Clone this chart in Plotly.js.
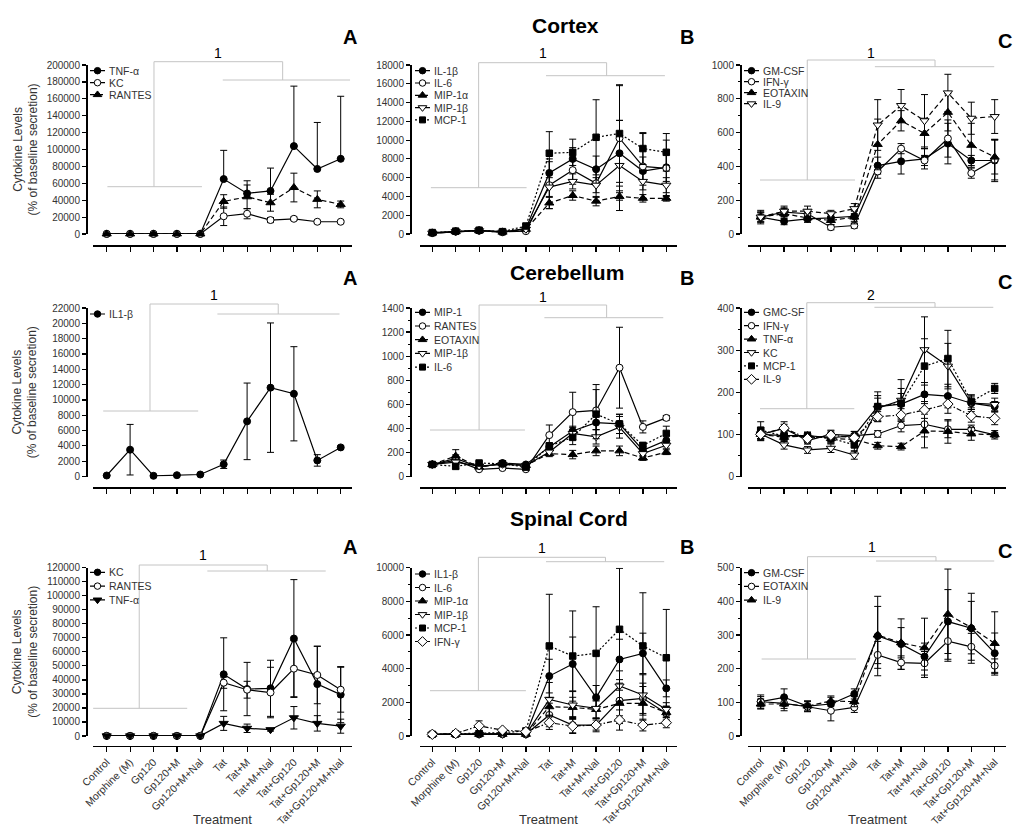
<!DOCTYPE html>
<html><head><meta charset="utf-8">
<script src="https://cdn.plot.ly/plotly-3.0.1.min.js"></script>
<style>html,body{margin:0;padding:0;background:#fff}#chart{width:1016px;height:827px}</style>
</head><body><div id="chart"></div>
<script>
// ---------------- DATA ----------------
const categories = ['Control','Morphine (M)','Gp120','Gp120+M','Gp120+M+Nal','Tat','Tat+M','Tat+M+Nal','Tat+Gp120','Tat+Gp120+M','Tat+Gp120+M+Nal'];

// Cortex A
const cxA_TNFa = [100,100,100,100,100,65000,48000,51000,104000,77000,89000];
const cxA_TNFa_err = [0,0,0,0,0,34000,15000,27000,71000,55000,74000];
const cxA_KC = [100,100,100,100,100,21000,24000,16500,18000,14500,14500];
const cxA_KC_err = [0,0,0,0,0,11000,6000,3000,2000,1500,1500];
const cxA_RANTES = [100,100,100,100,100,38500,44000,37000,55000,41000,35000];
const cxA_RANTES_err = [0,0,0,0,0,8000,14000,10000,17000,10000,4000];
// Cortex B
const cxB_IL1b = [100,250,350,200,600,6500,8000,6900,8600,6700,7100];
const cxB_IL1b_err = [50,80,100,80,150,1500,1200,1400,3500,1500,1500];
const cxB_IL6 = [150,300,400,250,300,5200,6800,5400,10200,7200,7000];
const cxB_IL6_err = [50,80,100,80,100,2500,1500,1500,5600,3500,3000];
const cxB_MIP1a = [100,250,350,200,500,3300,4100,3500,4000,3800,3800];
const cxB_MIP1a_err = [30,50,60,50,100,600,500,500,400,400,300];
const cxB_MIP1b = [100,250,350,200,500,5000,5600,5200,7300,5600,5200];
const cxB_MIP1b_err = [30,50,60,50,100,1000,800,800,4800,900,800];
const cxB_MCP1 = [150,300,400,250,850,8600,8700,10300,10700,9100,8700];
const cxB_MCP1_err = [50,80,100,80,200,2300,1400,4000,5200,1700,2000];
// Cortex C
const cxC_GMCSF = [100,75,90,95,105,405,430,445,535,435,435];
const cxC_GMCSF_err = [25,20,20,20,30,50,75,60,120,30,125];
const cxC_IFNg = [100,130,120,40,50,370,505,435,565,360,440];
const cxC_IFNg_err = [30,25,25,15,15,40,30,30,110,30,120];
const cxC_EOTAXIN = [100,120,95,80,100,530,670,595,720,525,455];
const cxC_EOTAXIN_err = [30,30,25,25,40,150,60,90,110,130,100];
const cxC_IL9 = [100,135,135,120,150,645,760,670,835,685,695];
const cxC_IL9_err = [40,30,30,20,30,150,95,155,110,95,100];
// Cerebellum A
const cbA_IL1b = [130,3500,90,170,260,1600,7200,11600,10800,2100,3800];
const cbA_IL1b_err = [50,3300,50,60,80,550,5000,8450,6150,750,200];
// Cerebellum B
const cbB_MIP1 = [100,150,78,112,100,246,378,448,437,218,300];
const cbB_MIP1_err = [10,30,10,10,10,30,40,60,80,30,40];
const cbB_RANTES = [100,134,60,70,60,344,535,549,904,412,487];
const cbB_RANTES_err = [10,30,10,10,10,84,165,215,336,50,20];
const cbB_EOTAXIN = [100,170,78,106,92,190,182,213,213,154,202];
const cbB_EOTAXIN_err = [10,53,10,10,10,25,35,40,40,20,20];
const cbB_MIP1b = [100,120,87,101,92,204,358,330,409,190,260];
const cbB_MIP1b_err = [10,20,10,10,10,30,50,60,90,25,25];
const cbB_IL6 = [100,84,112,106,78,252,325,518,437,258,358];
const cbB_IL6_err = [10,20,10,10,10,30,60,204,80,25,60];
// Cerebellum C
const cbC_GMCSF = [100,97,97,92,97,166,172,195,191,174,166];
const cbC_GMCSF_err = [15,10,8,10,10,20,25,22,28,15,12];
const cbC_IFNg = [100,114,85,100,97,101,121,124,112,112,99];
const cbC_IFNg_err = [10,10,8,10,10,8,15,30,20,10,10];
const cbC_TNFa = [100,93,97,90,88,73,71,108,107,101,99];
const cbC_TNFa_err = [10,10,8,10,10,8,8,40,28,15,5];
const cbC_KC = [101,75,63,67,51,162,181,301,262,174,171];
const cbC_KC_err = [15,10,8,10,10,30,49,78,54,20,15];
const cbC_MCP1 = [110,96,95,91,75,166,174,262,280,178,209];
const cbC_MCP1_err = [20,12,10,12,15,35,35,65,67,15,12];
const cbC_IL9 = [100,115,90,98,92,142,146,158,172,144,138];
const cbC_IL9_err = [12,15,10,10,10,12,15,20,22,15,15];
// Spinal Cord A
const scA_KC = [100,100,100,100,100,44000,33500,34000,69500,37000,29500];
const scA_KC_err = [0,0,0,0,0,26000,19000,20000,42000,27000,20000];
const scA_RANTES = [100,100,100,100,100,38000,33000,31000,48000,43500,33000];
const scA_RANTES_err = [0,0,0,0,0,4000,6000,18000,20000,20500,16000];
const scA_TNFa = [100,100,100,100,100,9000,5500,4500,13000,9000,7000];
const scA_TNFa_err = [0,0,0,0,0,5000,3000,1000,8000,5500,5000];
// Spinal Cord B
const scB_IL1b = [100,100,100,100,100,3560,4280,2300,4550,4910,2830];
const scB_IL1b_err = [30,30,40,30,40,1000,1600,700,1200,1200,500];
const scB_IL6 = [100,120,150,150,100,1250,650,650,2100,2240,1350];
const scB_IL6_err = [30,30,40,30,40,700,500,400,900,900,400];
const scB_MIP1a = [100,100,100,100,100,1740,1700,1580,1940,1940,1390];
const scB_MIP1a_err = [30,30,30,30,40,500,600,500,1200,1000,300];
const scB_MIP1b = [100,100,100,100,100,2180,1840,1640,2970,2440,1580];
const scB_MIP1b_err = [30,30,30,30,40,1000,800,600,900,1200,400];
const scB_MCP1 = [100,120,150,200,300,5350,4750,4910,6340,5350,4650];
const scB_MCP1_err = [30,30,40,40,60,3070,2680,2770,3620,3160,2870];
const scB_IFNg = [100,150,600,350,260,790,590,650,950,650,790];
const scB_IFNg_err = [30,40,300,80,60,400,400,300,600,350,300];
// Spinal Cord C
const scC_GMCSF = [102,115,89,95,125,297,273,236,340,320,246];
const scC_GMCSF_err = [20,25,15,20,15,118,75,40,95,104,60];
const scC_EOTAXIN = [102,97,87,75,85,241,218,216,282,265,209];
const scC_EOTAXIN_err = [15,15,15,30,15,40,20,35,60,40,20];
const scC_IL9 = [95,95,89,104,102,300,277,262,362,322,275];
const scC_IL9_err = [15,20,15,15,15,85,45,88,134,78,94];

// ---------------- STYLES ----------------
const DASH = {solid:'solid', dash:'5px,3px', dot:'2px,2px', dashdot:'5px,2px,1.5px,2px'};
const STY = {
  fc:  {symbol:'circle', fill:'#000', dash:'solid', size:7},
  oc:  {symbol:'circle', fill:'#fff', dash:'solid', size:7},
  ft:  {symbol:'triangle-up', fill:'#000', dash:'dash', size:8},
  otd: {symbol:'triangle-down', fill:'#fff', dash:'solid', size:8},
  otdD:{symbol:'triangle-down', fill:'#fff', dash:'dash', size:8},
  ftd: {symbol:'triangle-down', fill:'#000', dash:'solid', size:8},
  fs:  {symbol:'square', fill:'#000', dash:'dot', size:6.5},
  od:  {symbol:'diamond', fill:'#fff', dash:'dashdot', size:8}
};

const W = 1016, H = 827;
const px = x => x / W, py = y => 1 - y / H;
const colYAxisX = [86, 410, 740];
const colXL = [93, 420, 748], colXR = [352, 677, 1006];
const colC0 = [106.7, 432.3, 760.7], STEP = 23.4;
const rowY0 = [234, 476.5, 736], rowTop = [65, 308, 567.7], rowXAxis = [245, 487, 745.5];
const colLegX = [90, 415, 744];

const panels = [
 {r:0,c:0,ymax:200000,dtick:20000,minor:null,sig:'1',
  series:[['TNF-α',cxA_TNFa,cxA_TNFa_err,'fc',true],['KC',cxA_KC,cxA_KC_err,'oc'],['RANTES',cxA_RANTES,cxA_RANTES_err,'ft']],
  br:{ly:186.7,lx0:0.03,lx1:4.07,v1:2.02,ty:61.7,v2:7.52,ry:80,rx0:4.96,rx1:10.4,sy:53.3}, leg:[70.7,12]},
 {r:0,c:1,ymax:18000,dtick:2000,minor:null,sig:'1',
  series:[['IL-1β',cxB_IL1b,cxB_IL1b_err,'fc'],['IL-6',cxB_IL6,cxB_IL6_err,'oc'],['MIP-1α',cxB_MIP1a,cxB_MIP1a_err,'ft'],['MIP-1β',cxB_MIP1b,cxB_MIP1b_err,'otd'],['MCP-1',cxB_MCP1,cxB_MCP1_err,'fs']],
  br:{ly:187.7,lx0:-0.06,lx1:4.03,v1:1.98,ty:62.7,v2:7.45,ry:75.7,rx0:4.86,rx1:9.94,sy:53}, leg:[70.7,12.3]},
 {r:0,c:2,ymax:1000,dtick:200,minor:100,sig:'1',
  series:[['GM-CSF',cxC_GMCSF,cxC_GMCSF_err,'fc'],['IFN-γ',cxC_IFNg,cxC_IFNg_err,'oc'],['EOTAXIN',cxC_EOTAXIN,cxC_EOTAXIN_err,'ft'],['IL-9',cxC_IL9,cxC_IL9_err,'otdD']],
  br:{ly:180,lx0:-0.03,lx1:4.03,v1:1.99,ty:60,v2:7.45,ry:66.7,rx0:4.88,rx1:9.98,sy:52.7}, leg:[70.7,11]},
 {r:1,c:0,ymax:22000,dtick:2000,minor:null,sig:'1',
  series:[['IL1-β',cbA_IL1b,cbA_IL1b_err,'fc']],
  br:{ly:411,lx0:-0.15,lx1:3.91,v1:1.85,ty:304,v2:7.33,ry:314,rx0:4.73,rx1:9.95,sy:295}, leg:[314,13.7]},
 {r:1,c:1,ymax:1400,dtick:200,minor:100,sig:'1',
  series:[['MIP-1',cbB_MIP1,cbB_MIP1_err,'fc'],['RANTES',cbB_RANTES,cbB_RANTES_err,'oc'],['EOTAXIN',cbB_EOTAXIN,cbB_EOTAXIN_err,'ft'],['MIP-1β',cbB_MIP1b,cbB_MIP1b_err,'otd'],['IL-6',cbB_IL6,cbB_IL6_err,'fs']],
  br:{ly:430,lx0:-0.1,lx1:3.96,v1:2.0,ty:305,v2:7.45,ry:317.7,rx0:4.79,rx1:9.87,sy:296.7}, leg:[312.3,13.7]},
 {r:1,c:2,ymax:400,dtick:100,minor:50,sig:'2',
  series:[['GMC-SF',cbC_GMCSF,cbC_GMCSF_err,'fc'],['IFN-γ',cbC_IFNg,cbC_IFNg_err,'oc'],['TNF-α',cbC_TNFa,cbC_TNFa_err,'ft'],['KC',cbC_KC,cbC_KC_err,'otd'],['MCP-1',cbC_MCP1,cbC_MCP1_err,'fs'],['IL-9',cbC_IL9,cbC_IL9_err,'od']],
  br:{ly:408.7,lx0:-0.03,lx1:4.0,v1:1.97,ty:302.7,v2:7.45,ry:307.3,rx0:4.86,rx1:9.94,sy:295}, leg:[312.3,13.4]},
 {r:2,c:0,ymax:120000,dtick:10000,minor:null,sig:'1',
  series:[['KC',scA_KC,scA_KC_err,'fc'],['RANTES',scA_RANTES,scA_RANTES_err,'oc'],['TNF-α',scA_TNFa,scA_TNFa_err,'ftd']],
  br:{ly:708.3,lx0:-0.58,lx1:3.44,v1:1.39,ty:565,v2:6.86,ry:571,rx0:4.3,rx1:9.36,sy:555}, leg:[572.3,13.8]},
 {r:2,c:1,ymax:10000,dtick:2000,minor:1000,sig:'1',
  series:[['IL1-β',scB_IL1b,scB_IL1b_err,'fc'],['IL-6',scB_IL6,scB_IL6_err,'oc'],['MIP-1α',scB_MIP1a,scB_MIP1a_err,'ft'],['MIP-1β',scB_MIP1b,scB_MIP1b_err,'otd'],['MCP-1',scB_MCP1,scB_MCP1_err,'fs'],['IFN-γ',scB_IFNg,scB_IFNg_err,'od']],
  br:{ly:690.7,lx0:-0.1,lx1:4.0,v1:1.97,ty:557.3,v2:7.4,ry:561.7,rx0:4.86,rx1:9.91,sy:547.7}, leg:[574,13.5]},
 {r:2,c:2,ymax:500,dtick:100,minor:50,sig:'1',
  series:[['GM-CSF',scC_GMCSF,scC_GMCSF_err,'fc'],['EOTAXIN',scC_EOTAXIN,scC_EOTAXIN_err,'oc'],['IL-9',scC_IL9,scC_IL9_err,'ft']],
  br:{ly:659,lx0:0.04,lx1:4.07,v1:2.0,ty:556.7,v2:7.49,ry:561,rx0:4.93,rx1:9.98,sy:546.7}, leg:[572.7,13.7]}
];

const FONT = 'Liberation Sans, Arial, Helvetica, sans-serif';
const traces = [], shapes = [], annotations = [];
const layout = {
  width: W, height: H, margin:{l:0,r:0,t:0,b:0}, showlegend:false,
  paper_bgcolor:'#fff', plot_bgcolor:'rgba(0,0,0,0)',
  font:{family:FONT, color:'#333', size:10}
};

panels.forEach((p, i) => {
  const n = i + 1, sfx = n === 1 ? '' : String(n);
  const xa = 'x' + sfx, ya = 'y' + sfx;
  const c0 = colC0[p.c], xl = colXL[p.c], xr = colXR[p.c];
  layout['xaxis' + sfx] = {
    type:'category', domain:[px(xl), px(xr)], range:[(xl - c0) / STEP, (xr - c0) / STEP],
    anchor:'free', position: py(rowXAxis[p.r]),
    showline:true, linecolor:'#000', linewidth:1.5, ticks:'outside', ticklen:5, tickwidth:1.2, tickcolor:'#000',
    showticklabels: p.r === 2, tickangle:-45, ticklabeloverflow:'allow', automargin:false,
    tickfont:{size:10.5, color:'#333', family:FONT},
    showgrid:false, zeroline:false, fixedrange:true
  };
  const yax = {
    domain:[py(rowY0[p.r]), py(rowTop[p.r])], range:[0, p.ymax], autorange:false,
    anchor:'free', position: px(colYAxisX[p.c]),
    showline:true, linecolor:'#000', linewidth:1.5, ticks:'outside', ticklen:4, tickwidth:1.2, tickcolor:'#000',
    tick0:0, dtick:p.dtick, tickformat:'d', tickfont:{size:10, color:'#333', family:FONT},
    showgrid:false, zeroline:false, fixedrange:true
  };
  if (p.minor) yax.minor = {dtick:p.minor, tick0:0, ticks:'outside', ticklen:2.5, tickwidth:1, tickcolor:'#000', showgrid:false};
  layout['yaxis' + sfx] = yax;

  // data traces
  p.series.forEach(s => {
    const st = STY[s[3]];
    const zeros = s[2].map(() => 0);
    traces.push({
      type:'scatter', mode:'lines+markers', x: categories, y: s[1], xaxis: xa, yaxis: ya, name: s[0],
      line:{color:'#000', width:1.2, dash: DASH[st.dash]},
      marker:{symbol: st.symbol, size: st.size, color: st.fill, line:{color:'#000', width:1}},
      error_y:{type:'data', symmetric:false, array: s[2], arrayminus: s[4] ? zeros : s[2], color:'#000', thickness:1, width:3.5, visible:true},
      cliponaxis:false, hoverinfo:'skip'
    });
  });

  // legend (mini axes)
  const ln = 9 + n, lsfx = String(ln);
  const nS = p.series.length, ly0 = p.leg[0], lsp = p.leg[1];
  const lx0 = colLegX[p.c], lx1 = lx0 + 15;
  layout['xaxis' + lsfx] = {domain:[px(lx0), px(lx1)], range:[0,1], visible:false, anchor:'y' + lsfx, fixedrange:true};
  layout['yaxis' + lsfx] = {domain:[py(ly0 + (nS - 0.5) * lsp), py(ly0 - lsp / 2)], range:[nS - 0.5, -0.5], visible:false, anchor:'x' + lsfx, fixedrange:true};
  p.series.forEach((s, k) => {
    const st = STY[s[3]];
    traces.push({type:'scatter', mode:'lines', x:[0,1], y:[k,k], xaxis:'x' + lsfx, yaxis:'y' + lsfx,
      line:{color:'#000', width:1.2, dash: DASH[st.dash]}, cliponaxis:false, hoverinfo:'skip'});
    traces.push({type:'scatter', mode:'markers', x:[0.5], y:[k], xaxis:'x' + lsfx, yaxis:'y' + lsfx,
      marker:{symbol: st.symbol, size: st.size - 0.5, color: st.fill, line:{color:'#000', width:1}}, cliponaxis:false, hoverinfo:'skip'});
    annotations.push({xref:'paper', yref:'y' + lsfx, x: px(lx1 + 1.5), y: k, xanchor:'left', yanchor:'middle',
      text: s[0], showarrow:false, font:{size:10.5, color:'#333', family:FONT}});
  });

  // significance bracket
  const b = p.br, gl = {color:'#c4c4c4', width:1};
  const seg = (x0, y0, x1, y1) => shapes.push({type:'line', xref: xa, yref:'paper', x0, x1, y0: py(y0), y1: py(y1), line: gl, layer:'below'});
  seg(b.lx0, b.ly, b.lx1, b.ly);
  seg(b.v1, b.ly, b.v1, b.ty);
  seg(b.v1, b.ty, b.v2, b.ty);
  seg(b.v2, b.ty, b.v2, b.ry);
  seg(b.rx0, b.ry, b.rx1, b.ry);
  annotations.push({xref: xa, yref:'paper', x:(b.v1 + b.v2) / 2, y: py(b.sy), text: p.sig, showarrow:false,
    xanchor:'center', yanchor:'middle', font:{size:14, color:'#000', family:FONT}});

  if (p.r === 2) {
    annotations.push({xref:'paper', yref:'paper', x: px((xl + xr) / 2), y: py(819), text:'Treatment', showarrow:false,
      xanchor:'center', yanchor:'middle', font:{size:13, color:'#333', family:FONT}});
  }
  if (p.c === 0) {
    annotations.push({xref:'paper', yref:'paper', x: px(25), y: py((rowY0[p.r] + rowTop[p.r]) / 2), textangle:-90,
      text:'Cytokine Levels<br>(% of baseline secretion)', showarrow:false, xanchor:'center', yanchor:'middle',
      font:{size:12, color:'#333', family:FONT}});
  }
});

// section titles & panel letters
const sectionTitles = [['Cortex',565,25],['Cerebellum',567,272],['Spinal Cord',569,518]];
sectionTitles.forEach(t => annotations.push({xref:'paper', yref:'paper', x: px(t[1]), y: py(t[2]), text:'<b>' + t[0] + '</b>',
  showarrow:false, xanchor:'center', yanchor:'middle', font:{size:21, color:'#000', family:FONT}}));
const letterRows = [37, 278, 547];
letterRows.forEach(y => {
  [['A',350,0],['B',687,0],['C',1005,4]].forEach(l => annotations.push({xref:'paper', yref:'paper', x: px(l[1]), y: py(y + l[2]),
    text:'<b>' + l[0] + '</b>', showarrow:false, xanchor:'center', yanchor:'middle', font:{size:20, color:'#000', family:FONT}}));
});

layout.shapes = shapes;
layout.annotations = annotations;
Plotly.newPlot('chart', traces, layout, {staticPlot:true, displayModeBar:false});
</script>
</body></html>
